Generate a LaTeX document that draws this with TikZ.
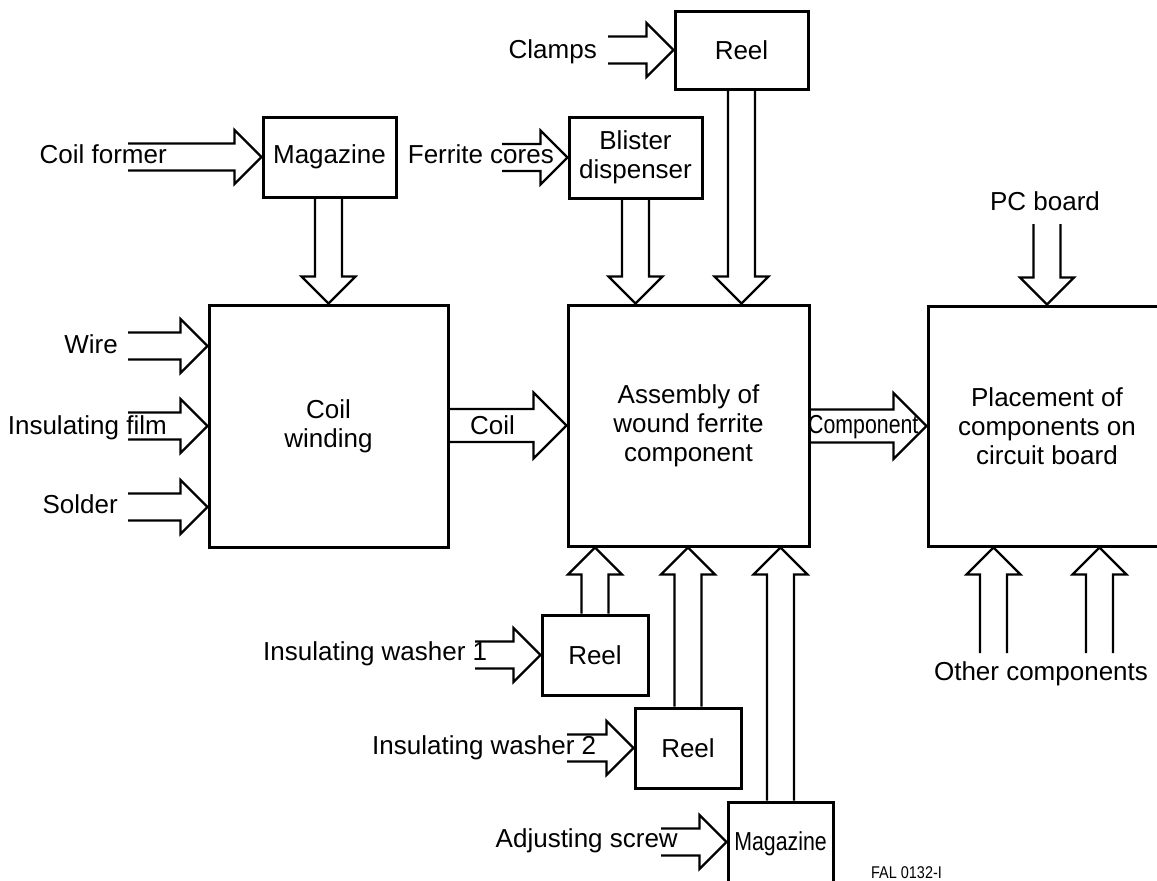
\documentclass[tikz,border=0pt]{standalone}
\usepackage{graphicx}
\usepackage{fontspec}
\setmainfont{Liberation Sans}
\usetikzlibrary{calc}
\tikzset{
  box/.style={draw, line width=3pt, inner sep=0pt, align=center, font=\fontsize{26}{29}\selectfont},
  arr/.style={draw, line width=2.2pt, line join=miter},
  lbl/.style={inner sep=0pt, font=\fontsize{26}{29}\selectfont},
}
% hollow block arrows: #1 half shaft width, #2 tail, #3 tip
\newcommand{\rarr}[3][13.5]{\draw[arr] let \p1=#2, \p2=#3 in
  (\x1,\y2+#1pt) -- (\x2-2*#1pt,\y2+#1pt) -- (\x2-2*#1pt,\y2+2*#1pt) -- (\x2,\y2)
  -- (\x2-2*#1pt,\y2-2*#1pt) -- (\x2-2*#1pt,\y2-#1pt) -- (\x1,\y2-#1pt);}
\newcommand{\darr}[3][13.5]{\draw[arr] let \p1=#2, \p2=#3 in
  (\x2-#1pt,\y1) -- (\x2-#1pt,\y2+2*#1pt) -- (\x2-2*#1pt,\y2+2*#1pt) -- (\x2,\y2)
  -- (\x2+2*#1pt,\y2+2*#1pt) -- (\x2+#1pt,\y2+2*#1pt) -- (\x2+#1pt,\y1);}
\newcommand{\uarr}[3][13.5]{\draw[arr] let \p1=#2, \p2=#3 in
  (\x2-#1pt,\y1) -- (\x2-#1pt,\y2-2*#1pt) -- (\x2-2*#1pt,\y2-2*#1pt) -- (\x2,\y2)
  -- (\x2+2*#1pt,\y2-2*#1pt) -- (\x2+#1pt,\y2-2*#1pt) -- (\x2+#1pt,\y1);}
\begin{document}
\begin{tikzpicture}[x=1pt,y=-1pt]
\useasboundingbox (0,0) rectangle (1157,881);
% boxes
\node[box, minimum width=133pt, minimum height=80pt] (magT) at (329.5,157) {Magazine};
\node[box, minimum width=133pt, minimum height=81pt] (blister) at (635.5,157.5) {Blister\\dispenser};
\node[box, minimum width=133pt, minimum height=78pt] (reelT) at (741.5,50) {Reel};
\node[box, minimum width=239pt, minimum height=242pt] (coilw) at (328.5,426) {Coil\\winding};
\node[box, minimum width=241pt, minimum height=241pt] (assy) at (688.5,425.5) {Assembly of\\wound ferrite\\component};
\node[box, minimum width=238pt, minimum height=240pt] (place) at (1047,426) {Placement of\\components on\\circuit board};
\node[box, minimum width=106pt, minimum height=80pt] (reel1) at (595,655) {Reel};
\node[box, minimum width=106pt, minimum height=80pt] (reel2) at (688,748) {Reel};
\node[box, minimum width=105pt, minimum height=84pt] (magB) at (780.5,844) {\scalebox{0.82}[1]{Magazine}};
% labels
\node[lbl, anchor=base east] (lcf) at (167,163) {Coil former};
\node[lbl, anchor=base east] (lfc) at (554,163) {Ferrite cores};
\node[lbl, anchor=base east] (lcl) at (597,58) {Clamps};
\node[lbl, anchor=base east] (lwi) at (118,353) {Wire};
\node[lbl, anchor=base east] (lif) at (167,434) {Insulating film};
\node[lbl, anchor=base east] (lso) at (118,513) {Solder};
\node[lbl, anchor=base west] (lco) at (470,434) {Coil};
\node[lbl, anchor=base west] (lcp) at (808,433) {\scalebox{0.82}[1]{Component}};
\node[lbl, anchor=base] (lpc) at (1045,210) {PC board};
\node[lbl, anchor=base] (loc) at (1041,680) {Other components};
\node[lbl, anchor=base west] (liw1) at (263,660) {Insulating washer 1};
\node[lbl, anchor=base west] (liw2) at (372,754) {Insulating washer 2};
\node[lbl, anchor=base east] (las) at (678,847) {Adjusting screw};
\node[inner sep=0pt, anchor=base west, font=\fontsize{17}{19}\selectfont] (lfal) at (871,878) {\scalebox{0.85}[1]{FAL 0132-I}};
% free ends
\coordinate (tcf) at (128,157);
\coordinate (tfc) at (502,157);
\coordinate (tcl) at (608,50);
\coordinate (twi) at (128,346);
\coordinate (tif) at (128,426);
\coordinate (tso) at (128,507);
\coordinate (tpc) at (1047,224);
\coordinate (toc1) at (993.5,653);
\coordinate (toc2) at (1099.5,653);
\coordinate (tiw1) at (475,655);
\coordinate (tiw2) at (567,748);
\coordinate (tas) at (661,842);
% arrows
\rarr{(tcf)}{(magT.west)}
\darr{(magT.south)}{(coilw.north)}
\rarr{(tfc)}{(blister.west)}
\darr{(blister.south)}{(blister.south |- assy.north)}
\rarr{(tcl)}{(reelT.west)}
\darr{(reelT.south)}{(reelT.south |- assy.north)}
\rarr{(twi)}{(coilw.west |- twi)}
\rarr{(tif)}{(coilw.west |- tif)}
\rarr{(tso)}{(coilw.west |- tso)}
\rarr[16.5]{(coilw.east)}{(assy.west)}
\rarr[16.5]{(assy.east)}{(place.west)}
\darr{(tpc)}{(place.north)}
\uarr{(toc1)}{(toc1 |- place.south)}
\uarr{(toc2)}{(toc2 |- place.south)}
\uarr{(reel1.north)}{(reel1.north |- assy.south)}
\uarr{(reel2.north)}{(reel2.north |- assy.south)}
\uarr{(magB.north)}{(magB.north |- assy.south)}
\rarr{(tiw1)}{(reel1.west)}
\rarr{(tiw2)}{(reel2.west)}
\rarr{(tas)}{(magB.west |- tas)}
\end{tikzpicture}
\end{document}
